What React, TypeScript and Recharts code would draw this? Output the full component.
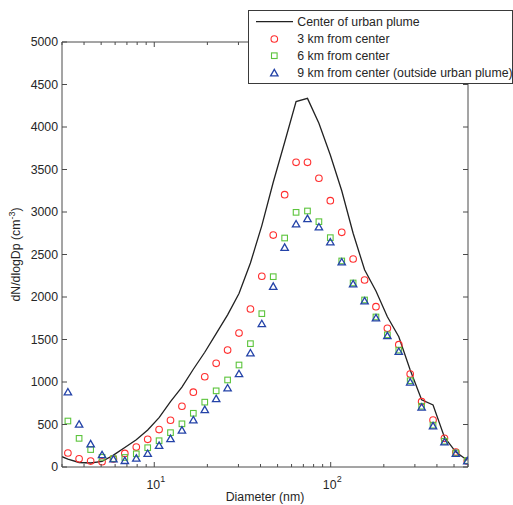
import React from 'react';
import { ComposedChart, Line, Scatter, XAxis, YAxis, Legend } from 'recharts';

// Particle diameter bins (nm)
const diameters = [3.24, 3.75, 4.36, 5.06, 5.87, 6.81, 7.91, 9.18, 10.65, 12.36, 14.35, 16.65, 19.33, 22.43, 26.04, 30.22, 35.08, 40.7, 47.24, 54.83, 63.64, 73.86, 85.73, 99.49, 115.5, 134.0, 155.6, 180.5, 209.5, 243.2, 282.2, 327.6, 380.2, 441.3, 512.2, 594.4];

// Center of urban plume (line)
const centerDiameters = [3.0, 3.24, 3.75, 4.36, 5.06, 5.87, 6.81, 7.91, 9.18, 10.65, 12.36, 14.35, 16.65, 19.33, 22.43, 26.04, 30.22, 35.08, 40.7, 47.24, 54.83, 63.64, 73.86, 85.73, 99.49, 115.5, 134.0, 155.6, 180.5, 209.5, 243.2, 282.2, 327.6, 380.2, 441.3, 512.2, 594.4];
const centerValues = [121, 92, 53, 47, 65, 140, 230, 320, 435, 580, 770, 940, 1150, 1350, 1570, 1790, 2040, 2400, 2840, 3350, 3820, 4300, 4337, 4043, 3670, 3250, 2750, 2320, 2070, 1768, 1533, 1141, 790, 730, 350, 176, 80];

// 3 km from center
const km3Values = [165, 96, 70, 62, 95, 160, 235, 326, 440, 550, 715, 880, 1062, 1220, 1376, 1576, 1859, 2244, 2729, 3204, 3585, 3585, 3397, 3133, 2761, 2447, 2200, 1886, 1632, 1439, 1094, 769, 553, 337, 176, 71];
// 6 km from center
const km6Values = [541, 337, 205, 114, 98, 112, 155, 227, 309, 404, 508, 632, 763, 896, 1024, 1200, 1451, 1804, 2239, 2694, 2996, 3012, 2886, 2698, 2424, 2165, 1965, 1765, 1555, 1375, 1015, 715, 492, 303, 165, 75];
// 9 km from center
const km9Values = [879, 500, 268, 140, 90, 72, 100, 155, 250, 330, 430, 550, 671, 800, 926, 1094, 1338, 1682, 2121, 2580, 2855, 2918, 2820, 2644, 2408, 2150, 1950, 1750, 1540, 1355, 995, 700, 480, 290, 155, 68];

const yTicks = [0, 500, 1000, 1500, 2000, 2500, 3000, 3500, 4000, 4500, 5000];
const xTicks = [3, 4, 5, 6, 7, 8, 9, 10, 20, 30, 40, 50, 60, 70, 80, 90, 100, 200, 300, 400, 500, 600];
const xMajorTicks = [10, 100];
const legendLabels = ['Center of urban plume', '3 km from center', '6 km from center', '9 km from center (outside urban plume)'];

const toPoints = (ds: number[], vs: number[]) => ds.map((d, i) => ({ d, v: vs[i] }));
const centerData = toPoints(centerDiameters, centerValues);
const km3Data = toPoints(diameters, km3Values);
const km6Data = toPoints(diameters, km6Values);
const km9Data = toPoints(diameters, km9Values);

const FONT = '"Liberation Sans", Arial, Helvetica, sans-serif';
const FS = 12.3;
const AX = '#4a4a4a';
const TXT = '#262626';
const RED = '#ff2e2e';
const GREEN = '#5cc43c';
const BLUE = '#2443a8';

const CircleMark = (p: any) => (
  <circle cx={p.cx} cy={p.cy} r={3.3} fill="none" stroke={RED} strokeWidth={1.1} />
);
const SquareMark = (p: any) => (
  <rect x={p.cx - 2.8} y={p.cy - 2.8} width={5.6} height={5.6} fill="none" stroke={GREEN} strokeWidth={1.1} />
);
const TriMark = (p: any) => (
  <path
    d={`M${p.cx},${p.cy - 3.8}L${p.cx + 3.7},${p.cy + 2.6}L${p.cx - 3.7},${p.cy + 2.6}Z`}
    fill="none"
    stroke={BLUE}
    strokeWidth={1.3}
  />
);

const BottomTick = (p: any) => {
  const { x, y, payload } = p;
  const v = payload.value;
  const major = xMajorTicks.includes(v);
  const exp = Math.round(Math.log10(v));
  return (
    <g>
      <line x1={x} x2={x} y1={y} y2={y - (major ? 5 : 3)} stroke={AX} strokeWidth={1} />
      {major && (
        <text x={x - 1} y={y + 22} textAnchor="middle" fontSize={FS} fontFamily={FONT} fill={TXT}>
          10
        </text>
      )}
      {major && (
        <text x={x + 6} y={y + 15} textAnchor="start" fontSize={9} fontFamily={FONT} fill={TXT}>
          {exp}
        </text>
      )}
    </g>
  );
};

const TopTick = (p: any) => {
  const { x, y, payload } = p;
  const major = xMajorTicks.includes(payload.value);
  return <line x1={x} x2={x} y1={y} y2={y + (major ? 5 : 3)} stroke={AX} strokeWidth={1} />;
};

const LeftTick = (p: any) => {
  const { x, y, payload } = p;
  return (
    <g>
      <line x1={x} x2={x + 5} y1={y} y2={y} stroke={AX} strokeWidth={1} />
      <text x={x - 4} y={y + 4} textAnchor="end" fontSize={FS} fontFamily={FONT} fill={TXT}>
        {payload.value}
      </text>
    </g>
  );
};

const RightTick = (p: any) => {
  const { x, y } = p;
  return <line x1={x} x2={x - 5} y1={y} y2={y} stroke={AX} strokeWidth={1} />;
};

const YLabel = (p: any) => {
  const vb = p.viewBox || {};
  const cy = vb.y + vb.height / 2;
  const cx = 20;
  return (
    <text
      x={cx}
      y={cy}
      transform={`rotate(-90, ${cx}, ${cy})`}
      textAnchor="middle"
      fontSize={FS}
      fontFamily={FONT}
      fill={TXT}
    >
      dN/dlogDp (cm
      <tspan dy={-5} fontSize={9}>-3</tspan>
      <tspan dy={5}>)</tspan>
    </text>
  );
};

const XLabel = (p: any) => {
  const vb = p.viewBox || {};
  const cx = vb.x + vb.width / 2;
  return (
    <text x={cx} y={501} textAnchor="middle" fontSize={FS} fontFamily={FONT} fill={TXT}>
      Diameter (nm)
    </text>
  );
};

const LegendBox = () => {
  const rowY = [11.7, 29, 45.7, 62.7];
  return (
    <svg width={265} height={74} style={{ display: 'block' }}>
      <rect x={0.5} y={0.5} width={264} height={73} fill="#fff" stroke="#3a3a3a" strokeWidth={1} />
      <line x1={8} x2={45} y1={rowY[0]} y2={rowY[0]} stroke="#222" strokeWidth={1.3} />
      <CircleMark cx={26.3} cy={rowY[1]} />
      <SquareMark cx={26.3} cy={rowY[2]} />
      <TriMark cx={26.3} cy={rowY[3] + 0.5} />
      {legendLabels.map((t, i) => (
        <text key={t} x={49.3} y={rowY[i] + 4.3} fontSize={FS} fontFamily={FONT} fill={TXT}>
          {t}
        </text>
      ))}
    </svg>
  );
};

export default function App() {
  return (
    <div style={{ position: 'absolute', left: 0, top: 0, width: 513, height: 505, background: '#fff' }}>
      <ComposedChart width={513} height={505} margin={{ top: 2, right: 0, bottom: 0, left: 0 }}>
        <XAxis
          xAxisId="bottom"
          dataKey="d"
          type="number"
          scale="log"
          domain={[3, 600]}
          allowDataOverflow
          ticks={xTicks}
          interval={0}
          orientation="bottom"
          height={38}
          tickSize={0}
          tickMargin={0}
          tickLine={false}
          tick={BottomTick}
          axisLine={{ stroke: AX, strokeWidth: 1 }}
          label={{ content: XLabel }}
        />
        <XAxis
          xAxisId="top"
          dataKey="d"
          type="number"
          scale="log"
          domain={[3, 600]}
          allowDataOverflow
          ticks={xTicks}
          interval={0}
          orientation="top"
          height={40}
          tickSize={0}
          tickMargin={0}
          tickLine={false}
          tick={TopTick}
          axisLine={{ stroke: AX, strokeWidth: 1 }}
        />
        <YAxis
          yAxisId="left"
          dataKey="v"
          type="number"
          domain={[0, 5000]}
          allowDataOverflow
          ticks={yTicks}
          interval={0}
          orientation="left"
          width={62}
          tickSize={0}
          tickMargin={0}
          tickLine={false}
          tick={LeftTick}
          axisLine={{ stroke: AX, strokeWidth: 1 }}
          label={{ content: YLabel }}
        />
        <YAxis
          yAxisId="right"
          dataKey="v"
          type="number"
          domain={[0, 5000]}
          allowDataOverflow
          ticks={yTicks}
          interval={0}
          orientation="right"
          width={45}
          tickSize={0}
          tickMargin={0}
          tickLine={false}
          tick={RightTick}
          axisLine={{ stroke: AX, strokeWidth: 1 }}
        />
        <Line
          xAxisId="bottom"
          yAxisId="left"
          data={centerData}
          dataKey="v"
          type="linear"
          stroke="#222"
          strokeWidth={1.3}
          dot={false}
          activeDot={false}
          isAnimationActive={false}
          name={legendLabels[0]}
        />
        <Scatter
          xAxisId="bottom"
          yAxisId="left"
          data={km3Data}
          dataKey="v"
          shape={CircleMark}
          isAnimationActive={false}
          name={legendLabels[1]}
        />
        <Scatter
          xAxisId="bottom"
          yAxisId="left"
          data={km6Data}
          dataKey="v"
          shape={SquareMark}
          isAnimationActive={false}
          name={legendLabels[2]}
        />
        <Scatter
          xAxisId="bottom"
          yAxisId="left"
          data={km9Data}
          dataKey="v"
          shape={TriMark}
          isAnimationActive={false}
          name={legendLabels[3]}
        />
        <Legend
          layout="vertical"
          align="center"
          verticalAlign="middle"
          content={LegendBox}
          wrapperStyle={{ position: 'absolute', left: 248, top: 10, width: 265, height: 74 }}
        />
      </ComposedChart>
    </div>
  );
}
